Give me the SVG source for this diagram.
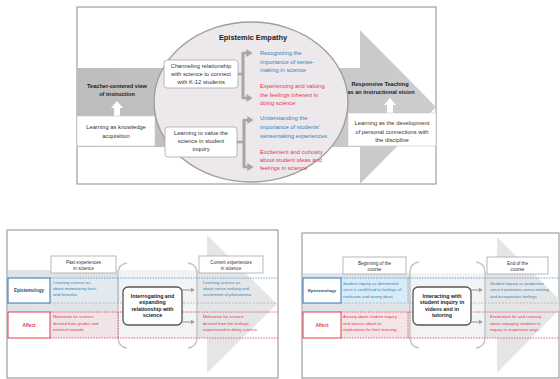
<svg xmlns="http://www.w3.org/2000/svg" width="560" height="379" viewBox="0 0 560 379">
<style>
text{font-family:"Liberation Sans",Arial,sans-serif;}
.t6{font-size:5.8px;fill:#333;text-anchor:middle;}
.b6{font-size:5.6px;font-weight:bold;fill:#222;text-anchor:middle;}
.bl{font-size:5.8px;fill:#2e86c1;}
.rd{font-size:5.8px;fill:#e8364f;}
.frame{fill:#fff;stroke:#8c8c8c;stroke-width:1;}
.wbox{fill:#fff;stroke:#a8a8a8;stroke-width:0.8;}
.brk{fill:none;stroke:#a6a6a6;stroke-width:2.6;}
.sb{font-size:4.2px;fill:#2e86c1;}
.sr{font-size:4.2px;fill:#e8364f;}
.lab{font-size:4.6px;fill:#333;text-anchor:middle;}
.ctr{font-size:5.3px;font-weight:bold;fill:#222;text-anchor:middle;}
.dblue{stroke:#4a90c8;stroke-width:0.8;stroke-dasharray:1.5 1.2;fill:none;}
.dred{stroke:#e8364f;stroke-width:0.8;stroke-dasharray:1.5 1.2;fill:none;}
.dgray{stroke:#b0b0b0;stroke-width:0.8;stroke-dasharray:2 1.5;fill:none;}
.paren{fill:none;stroke:#c4c4c4;stroke-width:1.4;}
.ibox{fill:#fff;stroke:#555;stroke-width:1.3;}
.sarr{stroke:#a0a0a0;stroke-width:1.2;fill:none;marker-end:url(#ah2);}
</style>
<defs>
<linearGradient id="g1" x1="0" x2="1" y1="0" y2="0">
<stop offset="0" stop-color="#bdbdbd"/><stop offset="1" stop-color="#cdcdcd"/>
</linearGradient>
<linearGradient id="g2" x1="0" x2="1" y1="0" y2="0">
<stop offset="0" stop-color="#dde3e8"/><stop offset="1" stop-color="#e6e6e6"/>
</linearGradient>
<marker id="ah" markerWidth="3" markerHeight="3" refX="1.8" refY="1.5" orient="auto" markerUnits="strokeWidth">
<path d="M0,0 L2.4,1.5 L0,3 Z" fill="#a6a6a6"/>
</marker>
<marker id="ah2" markerWidth="4" markerHeight="4" refX="2.5" refY="2" orient="auto" markerUnits="strokeWidth">
<path d="M0,0 L3,2 L0,4 Z" fill="#a0a0a0"/>
</marker>
</defs>

<!-- ===== TOP DIAGRAM ===== -->
<g id="top-frame">
<rect class="frame" x="77" y="7" width="359" height="177"/>
<path d="M77,68 H360 V30 L436,107 L360,184 V147 H77 Z" fill="url(#g1)"/>
</g>
<g id="teacher-centered">
<text class="b6" x="117" y="88">Teacher-centered view</text>
<text class="b6" x="117" y="96">of instruction</text>
<polygon points="114,116 114,108 111,108 117,101 123,108 120,108 120,116" fill="#fff"/>
</g>
<g id="knowledge-acquisition">
<rect x="77" y="116" width="78" height="30" fill="#fff" stroke="#c8c8c8" stroke-width="0.6"/>
<text class="t6" x="116" y="129">Learning as knowledge</text>
<text class="t6" x="116" y="137.5">acquisition</text>
</g>
<g id="responsive-teaching">
<text class="b6" x="380" y="86">Responsive Teaching</text>
<text class="b6" x="381" y="94">as an instructional vision</text>
<polygon points="387,113 387,105 384,105 390,98 396,105 393,105 393,113" fill="#fff"/>
</g>
<g id="personal-connections">
<rect x="348" y="113" width="88" height="33" fill="#fff" stroke="#c8c8c8" stroke-width="0.6"/>
<text class="t6" x="392" y="125">Learning as the development</text>
<text class="t6" x="392" y="133.5">of personal connections with</text>
<text class="t6" x="392" y="142">the discipline</text>
</g>
<g id="epistemic-empathy">
<ellipse cx="251" cy="102" rx="97" ry="80" fill="#ece8ec" stroke="#9e9e9e" stroke-width="1.4"/>
<text x="253" y="40" style="font-size:7.4px;font-weight:bold;fill:#222;text-anchor:middle">Epistemic Empathy</text>
</g>
<g id="channeling">
<rect class="wbox" x="164" y="60" width="74" height="28" rx="3"/>
<text class="t6" x="201" y="67.5">Channeling relationship</text>
<text class="t6" x="201" y="75.5">with science to connect</text>
<text class="t6" x="201" y="83.5">with K-12 students</text>
</g>
<g id="recognizing">
<text class="bl" x="260" y="55">Recognizing the</text>
<text class="bl" x="260" y="63.5">importance of sense-</text>
<text class="bl" x="260" y="72">making in science</text>
</g>
<g id="experiencing">
<text class="rd" x="260" y="88">Experiencing and valuing</text>
<text class="rd" x="260" y="96.5">the feelings inherent in</text>
<text class="rd" x="260" y="105">doing science</text>
</g>
<g id="learning-value">
<rect class="wbox" x="165" y="127" width="72" height="30" rx="3"/>
<text class="t6" x="201" y="135">Learning to value the</text>
<text class="t6" x="201" y="143">science in student</text>
<text class="t6" x="201" y="151">inquiry</text>
</g>
<g id="understanding">
<text class="bl" x="260" y="120">Understanding the</text>
<text class="bl" x="260" y="129">importance of students'</text>
<text class="bl" x="260" y="138">sensemaking experiences</text>
</g>
<g id="excitement">
<text class="rd" x="260" y="154">Excitement and curiosity</text>
<text class="rd" x="260" y="162">about student ideas and</text>
<text class="rd" x="260" y="170">feelings in science</text>
</g>

<!-- ===== BOTTOM LEFT ===== -->
<g id="bl-frame">
<rect class="frame" x="7" y="230" width="271" height="148"/>
<path d="M8,270 H207 V235 L277,304 L207,373 V338 H8 Z" fill="url(#g2)"/>
<rect x="118" y="263" width="79" height="85" rx="10" fill="#fff" opacity="0.55"/>
<path class="paren" d="M127,263 Q118,264 118,274 V337 Q118,347 127,348"/>
<path class="paren" d="M188,263 Q197,264 197,274 V337 Q197,347 188,348"/>
<rect x="51" y="278" width="67" height="25" fill="#e2ebf2" opacity="0.7"/>
<rect x="51" y="312" width="67" height="26" fill="#f6e4e7" opacity="0.7"/>
<line class="dblue" x1="50" y1="278" x2="278" y2="278"/>
<line class="dgray" x1="50" y1="303" x2="278" y2="303"/>
<line class="dred" x1="50" y1="312" x2="278" y2="312"/>
<line class="dred" x1="50" y1="338" x2="278" y2="338"/>
<line class="dblue" x1="118" y1="278" x2="118" y2="303"/>
<line class="dred" x1="118" y1="312" x2="118" y2="338"/>
</g>
<g id="bl-past">
<rect class="wbox" x="51" y="256" width="65" height="17"/>
<text class="lab" x="83.5" y="263.5">Past experiences</text>
<text class="lab" x="83.5" y="270">in science</text>
</g>
<g id="bl-current">
<rect class="wbox" x="199" y="256" width="64" height="17"/>
<text class="lab" x="231" y="263.5">Current experiences</text>
<text class="lab" x="231" y="270">in science</text>
</g>
<g id="bl-epistemology">
<rect x="8" y="278" width="42" height="25" fill="#fff" stroke="#2e75b6" stroke-width="1"/>
<text x="29" y="292" style="font-size:4.6px;font-weight:bold;fill:#1f4e79;text-anchor:middle">Epistemology</text>
</g>
<g id="bl-affect">
<rect x="8" y="312" width="42" height="26" fill="#fff" stroke="#e03c4f" stroke-width="1"/>
<text x="29" y="326.5" style="font-size:4.6px;font-weight:bold;fill:#e03c4f;text-anchor:middle">Affect</text>
</g>
<g id="bl-past-epi">
<text class="sb" x="53" y="284">Learning science as</text>
<text class="sb" x="53" y="290">about memorizing facts</text>
<text class="sb" x="53" y="296">and formulas</text>
</g>
<g id="bl-past-aff">
<text class="sr" x="53" y="318">Motivation for science</text>
<text class="sr" x="53" y="324.5">derived from grades and</text>
<text class="sr" x="53" y="331">external rewards</text>
</g>
<g id="bl-center">
<rect class="ibox" x="123" y="287" width="59" height="38" rx="5"/>
<text class="ctr" x="152.5" y="297.5">Interrogating and</text>
<text class="ctr" x="152.5" y="304">expanding</text>
<text class="ctr" x="152.5" y="310.5">relationship with</text>
<text class="ctr" x="152.5" y="317">science</text>
</g>
<g id="bl-cur-epi">
<text class="sb" x="203" y="284">Learning science as</text>
<text class="sb" x="203" y="290">about sense-making and</text>
<text class="sb" x="203" y="296">excitement of phenomena</text>
</g>
<g id="bl-cur-aff">
<text class="sr" x="203" y="318">Motivation for science</text>
<text class="sr" x="203" y="324.5">derived from the feelings</text>
<text class="sr" x="203" y="331">experienced in doing science</text>
</g>

<!-- ===== BOTTOM RIGHT ===== -->
<g id="br-frame">
<rect class="frame" x="302" y="233" width="257" height="145"/>
<path d="M303,273 H497 V237 L559,299 L559,310 L497,373 V338 H303 Z" fill="url(#g2)"/>
<rect x="410" y="262" width="75" height="86" rx="10" fill="#fff" opacity="0.55"/>
<path class="paren" d="M419,262 Q410,263 410,273 V337 Q410,347 419,348"/>
<path class="paren" d="M476,262 Q485,263 485,273 V337 Q485,347 476,348"/>
<rect x="341" y="278" width="67" height="25" fill="#d9ebf7" opacity="0.9"/>
<rect x="341" y="312" width="67" height="26" fill="#f8e3e6" opacity="0.8"/>
<line class="dblue" x1="341" y1="278" x2="559" y2="278"/>
<line class="dgray" x1="341" y1="303" x2="559" y2="303"/>
<line class="dred" x1="341" y1="312" x2="559" y2="312"/>
<line class="dred" x1="341" y1="338" x2="559" y2="338"/>
<line class="dblue" x1="408" y1="278" x2="408" y2="303"/>
<line class="dred" x1="408" y1="312" x2="408" y2="338"/>
</g>
<g id="br-beginning">
<rect class="wbox" x="343" y="257" width="63" height="17"/>
<text class="lab" x="374.5" y="264.5">Beginning of the</text>
<text class="lab" x="374.5" y="271">course</text>
</g>
<g id="br-end">
<rect class="wbox" x="487" y="257" width="61" height="17"/>
<text class="lab" x="517.5" y="264.5">End of the</text>
<text class="lab" x="517.5" y="271">course</text>
</g>
<g id="br-epistemology">
<rect x="303" y="278" width="38" height="25" fill="#fff" stroke="#2e75b6" stroke-width="1"/>
<text x="322" y="292" style="font-size:4.3px;font-weight:bold;fill:#1f4e79;text-anchor:middle">Epistemology</text>
</g>
<g id="br-affect">
<rect x="303" y="312" width="38" height="26" fill="#fff" stroke="#e03c4f" stroke-width="1"/>
<text x="322" y="326.5" style="font-size:4.6px;font-weight:bold;fill:#e03c4f;text-anchor:middle">Affect</text>
</g>
<g id="br-beg-epi">
<text class="sb" x="343" y="284.5">Student inquiry as detrimental</text>
<text class="sb" x="343" y="291">since it could lead to feelings of</text>
<text class="sb" x="343" y="297.5">confusion and wrong ideas</text>
</g>
<g id="br-beg-aff">
<text class="sr" x="343" y="318">Anxiety about student inquiry</text>
<text class="sr" x="343" y="324.5">and worries about its</text>
<text class="sr" x="343" y="331">implications for their learning</text>
</g>
<g id="br-center">
<rect class="ibox" x="413" y="287" width="58" height="38" rx="5"/>
<text class="ctr" x="442" y="297.5">Interacting with</text>
<text class="ctr" x="442" y="304">student inquiry in</text>
<text class="ctr" x="442" y="310.5">videos and in</text>
<text class="ctr" x="442" y="317">tutoring</text>
</g>
<g id="br-end-epi">
<text class="sb" x="490" y="284.5">Student inquiry as productive</text>
<text class="sb" x="490" y="291">since it promotes sense-making</text>
<text class="sb" x="490" y="297.5">and incorporates feelings</text>
</g>
<g id="br-end-aff">
<text class="sr" x="490" y="318">Excitement for and curiosity</text>
<text class="sr" x="490" y="324.5">about engaging students in</text>
<text class="sr" x="490" y="331">inquiry in responsive ways</text>
</g>

<!-- ===== CONNECTORS ===== -->
<g id="connectors">
<path class="brk" d="M238,74 H243"/>
<path class="brk" d="M243,98 V53 H251" marker-end="url(#ah)"/>
<path class="brk" d="M243,53 V98 H251" marker-end="url(#ah)"/>
<path class="brk" d="M237,142 H244"/>
<path class="brk" d="M244,167 V120 H252" marker-end="url(#ah)"/>
<path class="brk" d="M244,120 V167 H252" marker-end="url(#ah)"/>
<path class="sarr" d="M182,290 H194"/>
<path class="sarr" d="M182,322 H194"/>
<path class="sarr" d="M471,290 H482"/>
<path class="sarr" d="M471,322 H482"/>
</g>
</svg>
